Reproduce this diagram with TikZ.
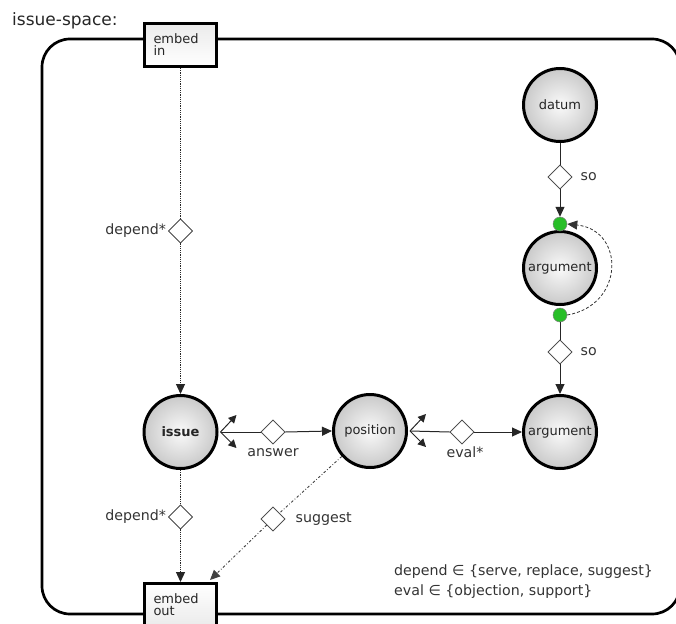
\documentclass[tikz,border=0pt]{standalone}
\usepackage{fontspec}
\setmainfont{DejaVu Sans}
\usetikzlibrary{arrows.meta,shapes.geometric,calc}
\definecolor{dotgreen}{RGB}{40,190,40}
\begin{document}
\begin{tikzpicture}[x=1pt,y=-1pt,
  concept/.style={circle,draw=black,line width=3pt,minimum size=73pt,inner sep=0pt,
    inner color=gray!4,outer color=gray!42,text=black!85,font=\fontsize{13}{15}\selectfont},
  rel/.style={diamond,draw=gray!55!black,line width=0.8pt,fill=white,
    minimum width=24pt,minimum height=24pt,inner sep=0pt},
  lbl/.style={font=\fontsize{14.2}{20}\selectfont,text=black!80,inner sep=1pt},
  embedbox/.style={draw=black,line width=3pt,minimum width=72pt,minimum height=43pt,
    inner sep=0pt,align=left,text width=54pt,text=black!85,font=\fontsize{13}{14}\selectfont},
  gdot/.style={circle,fill=dotgreen,draw=black!50,line width=0.5pt,minimum size=14pt,inner sep=0pt},
  tip/.style={-{Triangle[length=10pt,width=9pt]}},
  smalltip/.style={-{Triangle[length=8pt,width=8pt]}},
  conn/.style={line width=1pt,black!85},
  dep/.style={densely dotted,line width=1.2pt,black!85},
  sugg/.style={dash pattern=on 2.5pt off 2pt on 0.8pt off 2pt,line width=0.9pt,black!75},
  ]
\useasboundingbox (0,0) rectangle (676,623);
% frame
\draw[line width=2.7pt,rounded corners=28pt] (42,39) rectangle (680,614);
\node[anchor=west,font=\fontsize{17}{20}\selectfont,text=black!85,inner sep=0pt] (title) at (12,21) {issue-space:};
% embed boxes
\node[embedbox,top color=gray!16,bottom color=white] (ein) at (180.5,45) {embed\\[-2pt]in};
\node[embedbox,top color=white,bottom color=gray!16] (eout) at (180.5,605) {embed\\[-2pt]out};
% concepts
\node[concept] (datum) at (560,105) {datum};
\node[concept] (arg1) at (560,268) {argument};
\node[concept] (arg2) at (560,432) {argument};
\node[concept,font=\bfseries\fontsize{13}{15}\selectfont] (issue) at (180.5,432) {issue};
\node[concept] (pos) at (370,431) {position};
% green dots
\node[gdot] (g1) at (560,224) {};
\node[gdot] (g2) at (560,315) {};
% relation diamonds
\node[rel] (d1) at (180.5,231) {};
\node[rel] (d2) at (180.5,517) {};
\node[rel] (ans) at (273,432) {};
\node[rel] (ev) at (462,432) {};
\node[rel] (so1) at (560,177) {};
\node[rel] (so2) at (560,352) {};
\node[rel] (sug) at (273,519) {};
% labels
\node[lbl,anchor=east] (l1) at ($(d1.west)+(-1,0)$) {depend*};
\node[lbl,anchor=east] (l2) at ($(d2.west)+(-1,0)$) {depend*};
\node[lbl] (l3) at (273,453) {answer};
\node[lbl] (l4) at (465,452) {eval*};
\node[lbl,anchor=west] (l5) at ($(so1.east)+(7,0)$) {so};
\node[lbl,anchor=west] (l6) at ($(so2.east)+(7,0)$) {so};
\node[lbl,anchor=west] (l7) at ($(sug.east)+(9,0)$) {suggest};
\node[lbl,anchor=west,align=left] (legend) at (393,582) {depend ∈ \{serve, replace, suggest\}\\eval ∈ \{objection, support\}};
% depend connectors
\draw[dep] (ein.south) -- (d1.north);
\draw[dep,tip] (d1.south) -- (issue.north);
\draw[dep] (issue.south) -- (d2.north);
\draw[dep,tip] (d2.south) -- (eout.north);
% answer connector with fork
\coordinate (f1) at ($(issue.east)+(2,0)$);
\coordinate (f1u) at ($(f1)+(16,-17)$);
\coordinate (f1d) at ($(f1)+(16,16)$);
\draw[conn,smalltip] (f1) -- (f1u);
\draw[conn,smalltip] (f1) -- (f1d);
\draw[conn] (f1) -- (ans.west);
\draw[conn,tip] (ans.east) -- (pos.west);
% eval connector with fork
\coordinate (f2) at ($(pos.east)+(2,0)$);
\coordinate (f2u) at ($(f2)+(16,-17)$);
\coordinate (f2d) at ($(f2)+(16,16)$);
\draw[conn,smalltip] (f2) -- (f2u);
\draw[conn,smalltip] (f2) -- (f2d);
\draw[conn] (f2) -- (ev.west);
\draw[conn,tip] (ev.east) -- (arg2.west);
% so connectors
\draw[conn] (datum.south) -- (so1.north);
\draw[conn,tip] (so1.south) -- (g1.north);
\draw[conn] (g2.south) -- (so2.north);
\draw[conn,tip] (so2.south) -- (arg2.north);
\draw[densely dashed,line width=0.8pt,black!80,tip] (g2.east) .. controls (625,305) and (625,230) .. (g1.east);
% suggest connector
\coordinate (sugend) at ($(eout.north east)+(-8,-2)$);
\draw[sugg] (pos.222) -- (sug);
\draw[sugg,tip] (sug) -- (sugend);
% redraw diamonds on top
\foreach \n in {d1,d2,ans,ev,so1,so2,sug} {\node[rel] at (\n) {};}
\end{tikzpicture}
\end{document}
